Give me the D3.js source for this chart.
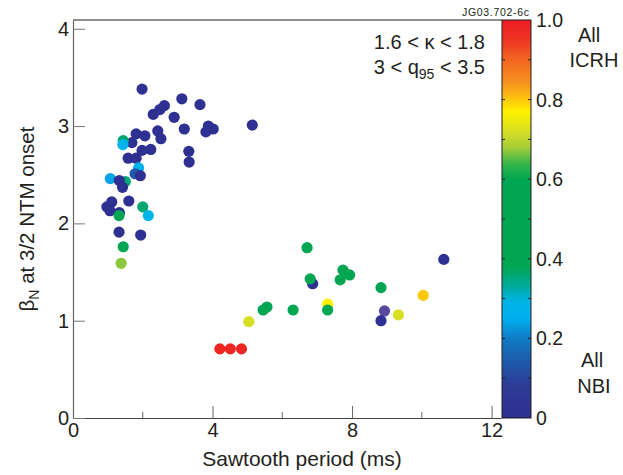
<!DOCTYPE html>
<html><head><meta charset="utf-8">
<script src="https://cdn.jsdelivr.net/npm/d3@7"></script>
<style>body{margin:0;background:#fff}svg{display:block}text{font-family:"Liberation Sans",Arial,sans-serif;fill:#231f20}</style>
</head><body><svg id="c" width="623" height="475"></svg>
<script>
// Data: sawtooth period (ms), beta_N at 3/2 NTM onset, ICRH fraction (0 = all NBI, 1 = all ICRH)
const period = [1.98,3.12,3.64,2.62,2.49,2.30,2.90,5.14,3.88,4.02,3.81,3.19,2.43,1.81,2.06,2.52,1.69,1.44,1.43,2.23,1.98,3.32,3.33,1.58,1.81,1.88,1.78,1.93,1.07,1.50,1.33,1.42,1.60,1.11,0.97,1.06,1.33,1.32,2.00,2.16,1.32,1.94,1.44,1.38,
  6.71,10.63,7.74,7.93,7.66,6.87,6.80,8.83,10.04,7.30,7.30,5.56,5.45,6.31,8.93,9.33,8.83,5.04,4.21,4.51,4.83];
const beta = [3.38,3.28,3.22,3.21,3.17,3.12,3.09,3.01,3.00,2.97,2.94,2.97,2.95,2.92,2.90,2.87,2.83,2.85,2.81,2.76,2.75,2.74,2.63,2.67,2.67,2.57,2.51,2.49,2.46,2.43,2.44,2.37,2.23,2.22,2.17,2.13,2.11,2.08,2.17,2.08,1.91,1.88,1.76,1.59,
  1.75,1.63,1.52,1.47,1.42,1.38,1.43,1.34,1.26,1.17,1.11,1.14,1.11,1.11,1.10,1.06,1.00,0.99,0.71,0.71,0.71];
const fraction = [0,0,0,0,0,0,0,0,0,0,0,0,0,0,0,0,0,0.36,0.28,0,0,0,0,0,0,0.27,0.14,0,0.24,0.36,0,0,0,0,0,0,0,0.5,0.36,0.28,0,0,0.5,0.67,
  0.5,0,0.5,0.5,0.5,0,0.5,0.5,0.8,0.77,0.5,0.5,0.5,0.5,0.05,0.72,0,0.72,0.98,0.98,0.98];
const xTicks = [0,4,8,12];
const xMinor = [2,6,10];
const yTicks = [0,1,2,3,4];
const cTicks = [0,0.2,0.4,0.6,0.8,1.0];
const cTickLabels = ["0","0.2","0.4","0.6","0.8","1.0"];

const svg = d3.select("#c");
const x = d3.scaleLinear().domain([0,12.27]).range([73,501]);
const y = d3.scaleLinear().domain([0,4.09]).range([418,20]);
const cy = d3.scaleLinear().domain([0,1]).range([418,20]);
const stops = [0,0.08,0.15,0.2,0.25,0.29,0.33,0.38,0.6,0.64,0.68,0.72,0.77,0.8,0.84,0.9,0.95,1];
const cols = ["#2e3192","#2e3a96","#1c5fad","#0f7cc4","#00aeef","#00b4e8","#00aba0","#00a651","#00a651","#39b54a","#a6ce39","#d7df23","#fff200","#fdc70c","#f7941d","#f26522","#ee3524","#ed1c24"];
const color = d3.scaleLinear().domain(stops).range(cols);

// colorbar gradient
const defs = svg.append("defs");
const grad = defs.append("linearGradient").attr("id","g").attr("x1",0).attr("x2",0).attr("y1",1).attr("y2",0);
stops.forEach((s,i)=>grad.append("stop").attr("offset",s).attr("stop-color",cols[i]));
svg.append("rect").attr("x",502).attr("y",cy(1)).attr("width",29).attr("height",cy(0)-cy(1)).attr("fill","url(#g)").attr("stroke","#231f20").attr("stroke-width",1);
d3.range(1,10).forEach(i=>{
  const v=i/10, yy=cy(v);
  svg.append("line").attr("x1",502).attr("x2",505).attr("y1",yy).attr("y2",yy).attr("stroke","#231f20").attr("stroke-width",1);
  svg.append("line").attr("x1",528).attr("x2",531).attr("y1",yy).attr("y2",yy).attr("stroke","#231f20").attr("stroke-width",1);
});
cTicks.forEach((v,i)=>svg.append("text").attr("x",536).attr("y",cy(v)+7).attr("font-size",19.5).text(cTickLabels[i]));

// frame
svg.append("line").attr("x1",73).attr("x2",502).attr("y1",20).attr("y2",20).attr("stroke","#231f20").attr("stroke-width",1.2);
// axes
const xa = svg.append("g").attr("transform","translate(0,418)").call(d3.axisBottom(x).tickValues(xTicks).tickSize(-12).tickSizeOuter(0).tickFormat(d3.format("d")));
xa.select(".domain").attr("stroke","#444").attr("stroke-width",1.2);
xa.selectAll(".tick line").attr("stroke","#666");
xa.selectAll(".tick text").attr("y",5).attr("dy","0.71em").attr("font-size",20).attr("font-family","Liberation Sans, Arial, sans-serif").attr("fill","#231f20");
xMinor.forEach(v=>svg.append("line").attr("x1",x(v)).attr("x2",x(v)).attr("y1",418).attr("y2",412).attr("stroke","#666"));
const ya = svg.append("g").attr("transform","translate(73,0)").call(d3.axisLeft(y).tickValues(yTicks).tickSize(-12).tickSizeOuter(0).tickFormat(d3.format("d")));
ya.select(".domain").attr("stroke","#666").attr("stroke-width",1.2);
ya.selectAll(".tick line").attr("stroke","#777");
ya.selectAll(".tick text").attr("x",-4).attr("font-size",20).attr("font-family","Liberation Sans, Arial, sans-serif").attr("fill","#231f20");

// points
svg.append("g").selectAll("circle").data(period.map((p,i)=>({p,b:beta[i],f:fraction[i]}))).join("circle")
  .attr("cx",d=>x(d.p)).attr("cy",d=>y(d.b)).attr("r",5.6).attr("fill",d=>d.f===0.05?"#57499e":color(d.f));

// labels
svg.append("text").attr("x",302).attr("y",466).attr("text-anchor","middle").attr("font-size",21).text("Sawtooth period (ms)");
const yl = svg.append("text").attr("transform","translate(34,219) rotate(-90)").attr("text-anchor","middle").attr("font-size",20.5);
yl.append("tspan").text("β");
yl.append("tspan").attr("font-size",14).attr("dy",5).text("N");
yl.append("tspan").attr("dy",-5).text(" at 3/2 NTM onset");

svg.append("text").attr("x",485).attr("y",49).attr("text-anchor","end").attr("font-size",20).text("1.6 < κ < 1.8");
const q = svg.append("text").attr("x",485).attr("y",74).attr("text-anchor","end").attr("font-size",20);
q.append("tspan").text("3 < q");
q.append("tspan").attr("font-size",14).attr("dy",5).text("95");
q.append("tspan").attr("dy",-5).text(" < 3.5");
svg.append("text").attr("x",529).attr("y",16).attr("text-anchor","end").attr("font-size",10.5).attr("textLength",67).text("JG03.702-6c");
svg.append("text").attr("x",589).attr("y",42).attr("text-anchor","middle").attr("font-size",20).text("All");
svg.append("text").attr("x",594).attr("y",67).attr("text-anchor","middle").attr("font-size",20).text("ICRH");
svg.append("text").attr("x",592).attr("y",367).attr("text-anchor","middle").attr("font-size",20).text("All");
svg.append("text").attr("x",594).attr("y",393).attr("text-anchor","middle").attr("font-size",20).text("NBI");
</script></body></html>
